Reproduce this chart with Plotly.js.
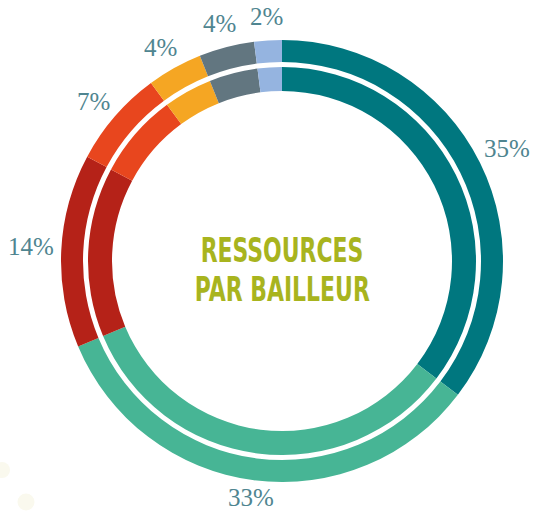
<!DOCTYPE html>
<html>
<head>
<meta charset="utf-8">
<script src="https://cdn.plot.ly/plotly-3.0.1.min.js"></script>
<style>
html,body{margin:0;padding:0;background:#fff;}
#chart{width:536px;height:514px;}
.narrow text.annotation-text{transform-box:fill-box;transform-origin:center;transform:scaleX(0.74);}
</style>
</head>
<body>
<div id="chart"></div>
<script>
// Data
const categories = ["Bailleur A", "Bailleur B", "Bailleur C", "Bailleur D", "Bailleur E", "Bailleur F", "Bailleur G"];
const shares = [35, 33, 14, 7, 4, 4, 2];
const shareLabels = ["35%", "33%", "14%", "7%", "4%", "4%", "2%"];
const colors = ["#00777F", "#47B595", "#B52218", "#E8461E", "#F5A623", "#627680", "#95B4E0"];
const centerTitle = ["RESSOURCES", "PAR BAILLEUR"];

const W = 536, H = 514;
const cx = 282, cy = 261;
const outerR = 221, outerHole = 199;
const innerR = 194, innerHole = 170;
const labelR = 247;

function domainFor(r) {
  return {
    x: [(cx - r) / W, (cx + r) / W],
    y: [(H - (cy + r)) / H, (H - (cy - r)) / H]
  };
}

const common = {
  type: "pie",
  values: shares,
  labels: categories,
  sort: false,
  direction: "clockwise",
  rotation: 0,
  textinfo: "none",
  hoverinfo: "label+percent",
  marker: { colors: colors, line: { width: 0 } },
  showlegend: false
};

const traces = [
  Object.assign({}, common, { domain: domainFor(outerR), hole: outerHole / outerR }),
  Object.assign({}, common, { domain: domainFor(innerR), hole: innerHole / innerR })
];

// Label annotations at mid-angle of each slice
const total = shares.reduce((a, b) => a + b, 0);
const annotations = [];
let cum = 0;
shares.forEach((v, i) => {
  const mid = (cum + v / 2) / total * 2 * Math.PI;
  cum += v;
  const c = Math.cos(mid);
  const r = c < -0.5 ? labelR - 6 : labelR;
  const sx = cx + (r + 4 * Math.abs(Math.sin(mid))) * Math.sin(mid);
  const sy = cy - r * c + (c > 0.5 ? 2 : -3);
  annotations.push({
    xref: "paper", yref: "paper",
    x: sx / W, y: (H - sy) / H,
    xanchor: "center", yanchor: "middle",
    text: shareLabels[i],
    showarrow: false,
    borderpad: 0,
    font: { family: "Liberation Serif, DejaVu Serif, serif", size: 25, color: "#4F8590" }
  });
});

const nLabels = annotations.length;
annotations.push({
  xref: "paper", yref: "paper",
  x: cx / W, y: (H - 250) / H,
  xanchor: "center", yanchor: "middle",
  text: "<b>" + centerTitle[0] + "</b>",
  showarrow: false,
  font: { family: "DejaVu Sans Condensed, Liberation Sans, sans-serif", size: 33, color: "#A8B41E" }
});
annotations.push({
  xref: "paper", yref: "paper",
  x: cx / W, y: (H - 289) / H,
  xanchor: "center", yanchor: "middle",
  text: "<b>" + centerTitle[1] + "</b>",
  showarrow: false,
  font: { family: "DejaVu Sans Condensed, Liberation Sans, sans-serif", size: 33, color: "#A8B41E" }
});

function circ(x, y, r) {
  return {
    type: "circle", xref: "paper", yref: "paper",
    x0: (x - r) / W, x1: (x + r) / W,
    y0: (H - (y + r)) / H, y1: (H - (y - r)) / H,
    fillcolor: "#FAF9EE", line: { width: 0 }, layer: "below"
  };
}

const layout = {
  width: W, height: H,
  margin: { l: 0, r: 0, t: 0, b: 0 },
  paper_bgcolor: "#ffffff",
  plot_bgcolor: "#ffffff",
  annotations: annotations,
  shapes: [circ(2, 470, 8), circ(26, 502, 8.5)]
};

Plotly.newPlot("chart", traces, layout, { displayModeBar: false, staticPlot: true }).then(function (gd) {
  const groups = gd.querySelectorAll("g.annotation");
  for (let i = nLabels; i < groups.length; i++) groups[i].classList.add("narrow");
});
</script>
</body>
</html>
